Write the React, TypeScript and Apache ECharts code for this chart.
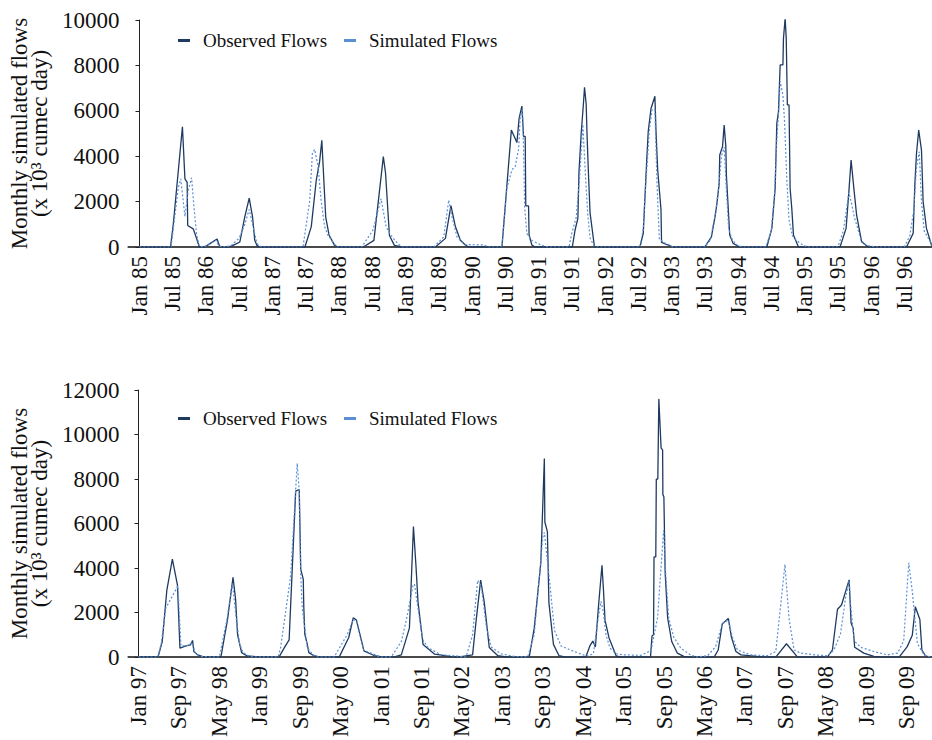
import React, { useEffect, useRef } from "react";
import * as echarts from "echarts";

// Month index: 0 = Jan 85 (top panel), 0 = Jan 97 (bottom panel)
const topTickLabels = [
  "Jan 85", "Jul 85", "Jan 86", "Jul 86", "Jan 87", "Jul 87", "Jan 88", "Jul 88",
  "Jan 89", "Jul 89", "Jan 90", "Jul 90", "Jan 91", "Jul 91", "Jan 92", "Jul 92",
  "Jan 93", "Jul 93", "Jan 94", "Jul 94", "Jan 95", "Jul 95", "Jan 96", "Jul 96",
];
const bottomTickLabels = [
  "Jan 97", "Sep 97", "May 98", "Jan 99", "Sep 99", "May 00", "Jan 01", "Sep 01",
  "May 02", "Jan 03", "Sep 03", "May 04", "Jan 05", "Sep 05", "May 06", "Jan 07",
  "Sep 07", "May 08", "Jan 09", "Sep 09",
];
const topLabelStep = 6;
const bottomLabelStep = 8;

const legendNames = ["Observed Flows", "Simulated Flows"];

const observedTop: number[][] = [
  [0, 0], [5.6, 0], [6.1, 1000], [7.75, 5300], [8.2, 3000], [8.6, 2850], [8.7, 950], [9.7, 800], [10.2, 450], [10.8, 0],
  [11.8, 0], [12.7, 150], [14.0, 350], [14.5, 0],
  [16.0, 0], [16.9, 70], [18.1, 220], [19.0, 1330], [19.8, 2150], [20.4, 1330], [20.8, 300], [21.2, 70], [21.7, 0],
  [29.85, 0], [31.0, 900], [31.9, 2950], [32.5, 3760], [32.9, 4700], [33.6, 1330], [34.2, 530], [35.2, 70], [35.8, 0],
  [40.4, 0], [42.3, 290], [44.0, 3980], [44.4, 3250], [45.1, 510], [46.0, 70], [47.3, 0],
  [53.4, 0], [55.2, 380], [56.2, 1820], [57.0, 900], [57.9, 300], [58.8, 90], [59.4, 0],
  [65.4, 0], [67.1, 5150], [68.1, 4600], [68.5, 5670], [69.0, 6210], [69.3, 4870], [69.6, 4870], [69.7, 1810], [70.2, 1810], [70.3, 530], [70.8, 90], [71.4, 0],
  [78.1, 0], [78.6, 750], [79.1, 1260], [79.3, 3300], [79.7, 5000], [80.1, 6300], [80.3, 7040], [80.6, 6300], [80.75, 5000], [81.0, 3300], [81.3, 1500], [82.1, 0],
  [90.3, 0], [90.9, 600], [91.5, 3700], [91.8, 5100], [92.3, 6100], [93.0, 6640], [93.2, 5100], [93.5, 3400], [94.1, 1650], [94.2, 200], [95.2, 100], [96.3, 0],
  [102.0, 0], [103.2, 450], [103.9, 1400], [104.2, 1930], [104.6, 2800], [104.7, 4050], [105.2, 4420], [105.5, 5370], [105.8, 4420], [105.9, 3170], [106.2, 1850], [106.5, 530], [107.1, 160], [108.3, 0],
  [113.2, 0], [114.1, 820], [114.7, 2580], [115.0, 5450], [115.3, 5960], [115.6, 8020], [116.1, 8020], [116.2, 9190], [116.5, 10080], [116.7, 9190], [116.9, 6260], [117.2, 6260], [117.4, 2580], [117.7, 1700], [118.0, 530], [118.9, 0],
  [126.4, 0], [127.5, 820], [128.0, 2440], [128.4, 3830], [128.9, 2580], [129.4, 1400], [130.3, 230], [131.5, 0],
  [138.4, 0], [139.6, 600], [139.9, 2730], [140.2, 4120], [140.6, 5150], [141.1, 4270], [141.4, 2000], [142.0, 820], [142.9, 90], [143.2, 0],
];

const simulatedTop: number[][] = [
  [0, 0], [5.7, 0], [6.3, 1200], [7.0, 2600], [7.45, 3000], [8.2, 1350], [8.8, 2500], [9.4, 3050], [9.8, 1850], [10.3, 550], [10.8, 30], [11.5, 0],
  [12.5, 100], [13.8, 300], [14.3, 50], [15, 0],
  [16.5, 50], [18.0, 400], [19.0, 1000], [19.8, 1650], [20.5, 900], [21.2, 150], [22, 0],
  [29.5, 0], [30.7, 2000], [31.2, 4130], [31.6, 4300], [32.2, 3600], [32.8, 2000], [33.4, 900], [34.0, 520], [34.9, 220], [35.6, 0],
  [40.1, 0], [42.1, 730], [43.6, 2130], [44.5, 880], [45.4, 510], [46.6, 150], [47.4, 0],
  [53.1, 0], [54.9, 440], [55.8, 2070], [56.4, 1330], [57.3, 440], [58.8, 110], [62.1, 90], [63, 0],
  [65.4, 0], [66.3, 2600], [67.2, 3400], [67.8, 3550], [68.4, 4300], [68.7, 5700], [69.1, 6100], [69.3, 4400], [69.5, 1760], [69.9, 590], [70.8, 290], [72.6, 70], [73.8, 0],
  [77.5, 0], [78.0, 600], [78.8, 1300], [79.4, 3000], [80.0, 5400], [80.5, 3000], [80.9, 1400], [81.3, 400], [82, 50], [82.5, 0],
  [90.3, 0], [90.9, 800], [91.2, 2200], [92.0, 5150], [92.5, 6050], [93.0, 6050], [93.4, 2650], [93.8, 350], [94.8, 180], [96.3, 0],
  [102, 0], [103, 300], [104, 1600], [104.6, 2800], [105.0, 4000], [105.5, 4400], [105.9, 2500], [106.3, 800], [107, 300], [108, 50], [109, 0],
  [113.0, 0], [114.0, 700], [114.6, 2400], [115.0, 4700], [115.3, 5800], [115.6, 7300], [116.1, 6700], [116.4, 5500], [116.8, 3000], [117.2, 1200], [117.8, 500], [118.5, 300], [119.5, 120], [120.5, 0],
  [126, 0], [127, 700], [128.0, 2400], [128.5, 1900], [129.0, 1300], [129.5, 900], [130.2, 300], [131, 100], [132, 30], [133, 0],
  [138, 0], [139, 500], [139.7, 1600], [140.2, 3500], [140.7, 4200], [141.1, 2000], [141.6, 700], [142.3, 400], [143, 100], [143.2, 50],
];

const observedBottom: number[][] = [
  [0, 0], [2, 20], [3.9, 30], [4.7, 700], [5.6, 3000], [6.7, 4400], [7.7, 3250], [8.2, 400], [9.4, 500], [10.3, 550], [10.7, 750], [10.95, 250], [11.7, 100], [13, 0],
  [16.3, 0], [17.6, 1670], [18.7, 3580], [19.2, 2620], [19.6, 1000], [20.4, 200], [21.5, 50], [24.2, 0],
  [27.8, 0], [28.8, 400], [29.8, 770], [31.1, 7460], [31.8, 7530], [32.1, 3940], [32.6, 3500], [32.7, 2270], [32.9, 1030], [33.4, 570], [33.7, 200], [34.7, 60], [36, 0],
  [39.7, 0], [41.6, 880], [42.5, 1770], [43.1, 1670], [44.6, 280], [46.6, 70], [48.5, 0],
  [50.5, 0], [52.0, 100], [53.6, 1300], [54.4, 5870], [54.9, 4090], [55.3, 2480], [56.3, 570], [58.6, 130], [61.9, 20], [63.2, 0],
  [66.1, 100], [66.8, 1640], [67.7, 3460], [68.4, 2480], [68.8, 1680], [69.4, 430], [71.1, 60], [73.0, 0], [77.3, 0],
  [78.3, 1300], [79.6, 4230], [80.3, 8920], [80.4, 6070], [80.9, 5640], [81.2, 2450], [82.1, 570], [83.2, 60], [84.5, 0],
  [88.5, 0], [89.3, 500], [89.9, 720], [90.4, 450], [91.0, 2250], [91.7, 4120], [92.0, 3000], [92.3, 1660], [93.1, 860], [94.5, 60], [95.5, 0],
  [101.3, 0], [101.6, 950], [101.9, 1000], [102.0, 4500], [102.35, 4500], [102.45, 8000], [102.75, 8000], [102.95, 11600], [103.4, 9400], [103.7, 9300], [103.75, 7300], [103.95, 7200], [104.2, 3800], [104.7, 1750], [105.5, 700], [106.6, 180], [107.9, 30], [109, 0],
  [113.9, 0], [114.7, 320], [115.5, 1490], [116.7, 1740], [117.3, 910], [118.2, 250], [119.2, 100], [122.4, 30], [126.1, 0],
  [128.2, 600], [130.4, 0],
  [136.3, 0], [137.3, 320], [138.3, 2150], [139.1, 2340], [140.6, 3470], [141.0, 1520], [141.4, 1290], [141.7, 440], [143.5, 180], [145.5, 30], [147, 0],
  [150.5, 0], [152.1, 470], [153.1, 980], [153.7, 2260], [154.6, 1690], [155.0, 320], [155.7, 60], [156.5, 0],
];

const simulatedBottom: number[][] = [
  [0, 0], [3.8, 0], [4.5, 600], [5.4, 2200], [7.8, 3200], [8.4, 500], [9.5, 500], [10.6, 650], [11.3, 150], [12.5, 30], [14, 0],
  [16.0, 0], [17.5, 1700], [18.6, 3300], [19.3, 1800], [20, 600], [20.7, 200], [22, 30], [23, 0],
  [27.6, 0], [28.1, 400], [30.1, 3640], [31.4, 8700], [31.8, 7450], [32.1, 3640], [32.4, 2180], [33.4, 420], [34.4, 130], [35.4, 0],
  [38.7, 0], [41.3, 1010], [42.5, 1700], [43.3, 1520], [44.6, 300], [48.0, 0],
  [50.0, 0], [52.0, 700], [53.0, 1670], [54.3, 3200], [54.6, 3280], [55.3, 2200], [56.2, 800], [57.3, 420], [59.9, 100], [63.2, 50], [64.8, 0],
  [66.1, 1000], [67.1, 3450], [67.8, 3200], [68.8, 1400], [69.8, 450], [71.7, 150], [74.4, 30], [77.0, 0],
  [78.3, 1000], [80.0, 5400], [80.3, 5600], [81.3, 3500], [82.3, 1200], [83.6, 500], [86.2, 250], [88.5, 60],
  [89.0, 60], [90, 150], [90.8, 1500], [91.5, 2500], [92.0, 2000], [92.5, 1000], [93.3, 400], [94.5, 150], [96, 100], [99.4, 80],
  [101.4, 290], [102.7, 1760], [103.9, 5700], [104.3, 3800], [104.9, 1760], [105.9, 900], [107.3, 400], [109.2, 100], [110.5, 0],
  [112.6, 60], [114.2, 470], [115.5, 1500], [116.7, 1670], [117.5, 900], [118.5, 320], [121.1, 100], [124.4, 60], [126.1, 250],
  [127.9, 4160], [128.7, 1760], [129.7, 320], [131.0, 180], [133.7, 100], [136.3, 60],
  [137.6, 320], [138.9, 1050], [139.9, 2660], [140.6, 3430], [140.9, 2340], [141.6, 730], [142.9, 440], [145.5, 250], [148.2, 100], [150.2, 180],
  [151.4, 730], [152.4, 4230], [153.1, 2950], [154.1, 620], [155.4, 100], [156.7, 0],
];

const FONT = "Liberation Serif";
const OBS_COLOR = "#1f3a60";
const SIM_COLOR = "#5b8fd3";
const TEXT = "#111";

function labelFormatter(labels: string[], step: number) {
  return (v: number) => {
    if (v < 0 || v % step !== 0) return "";
    const i = v / step;
    return labels[i] ?? "";
  };
}

export default function App() {
  const ref = useRef<HTMLDivElement>(null);
  useEffect(() => {
    if (!ref.current) return;
    const chart = echarts.init(ref.current, undefined, { renderer: "svg" });
    const yName = "Monthly simulated flows\n(x 10³ cumec day)";
    const xAxisBase = (gridIndex: number, max: number, labels: string[], step: number) => ({
      type: "value",
      gridIndex,
      min: -2,
      max,
      interval: 2,
      axisLine: { show: true, onZero: false, lineStyle: { color: "#4a4a4a", width: 2 } },
      axisTick: { show: false },
      splitLine: { show: false },
      axisLabel: {
        rotate: 90,
        fontSize: 23,
        color: TEXT,
        fontFamily: FONT,
        margin: 9,
        showMinLabel: true,
        showMaxLabel: true,
        formatter: labelFormatter(labels, step),
      },
    });
    const yAxisBase = (gridIndex: number, max: number) => ({
      type: "value",
      gridIndex,
      min: 0,
      max,
      interval: 2000,
      axisLine: { show: true, lineStyle: { color: "#222", width: 1 } },
      axisTick: { show: true, length: 4, lineStyle: { color: "#222" } },
      splitLine: { show: false },
      axisLabel: {
        fontSize: 23,
        color: TEXT,
        fontFamily: FONT,
        margin: 9,
        formatter: (v: number) => String(v),
      },
      name: yName,
      nameLocation: "middle",
      nameRotate: 90,
      nameGap: 67,
      nameTextStyle: { fontSize: 23, lineHeight: 20, color: TEXT, fontFamily: FONT },
    });
    const legendBase = (top: number) => ({
      data: legendNames,
      left: 178,
      top,
      padding: 0,
      icon: "rect",
      itemWidth: 12,
      itemHeight: 3,
      itemGap: 17,
      textStyle: { fontSize: 19, color: TEXT, fontFamily: FONT, padding: [0, 0, 0, 8] },
    });
    const lineSeries = (name: string, data: number[][], idx: number, sim: boolean) => ({
      type: "line",
      name,
      xAxisIndex: idx,
      yAxisIndex: idx,
      data,
      showSymbol: false,
      symbol: "none",
      clip: true,
      z: sim ? 3 : 2,
      itemStyle: { color: sim ? SIM_COLOR : OBS_COLOR },
      lineStyle: sim
        ? { color: SIM_COLOR, width: 1.2, type: [2, 2] }
        : { color: OBS_COLOR, width: 1.3 },
    });
    chart.setOption({
      animation: false,
      backgroundColor: "#fff",
      textStyle: { fontFamily: FONT },
      grid: [
        { left: 126, top: 20, width: 806, height: 227, containLabel: false },
        { left: 126, top: 390, width: 806, height: 273, containLabel: false },
      ],
      legend: [legendBase(31), legendBase(409)],
      xAxis: [
        xAxisBase(0, 143, topTickLabels, topLabelStep),
        xAxisBase(1, 157, bottomTickLabels, bottomLabelStep),
      ],
      yAxis: [yAxisBase(0, 10000), yAxisBase(1, 12000)],
      series: [
        lineSeries(legendNames[0], observedTop, 0, false),
        lineSeries(legendNames[1], simulatedTop, 0, true),
        lineSeries(legendNames[0], observedBottom, 1, false),
        lineSeries(legendNames[1], simulatedBottom, 1, true),
      ],
    });
    return () => chart.dispose();
  }, []);
  return (
    <div
      ref={ref}
      style={{ position: "absolute", left: 0, top: 0, width: 932, height: 740, background: "#fff" }}
    />
  );
}
